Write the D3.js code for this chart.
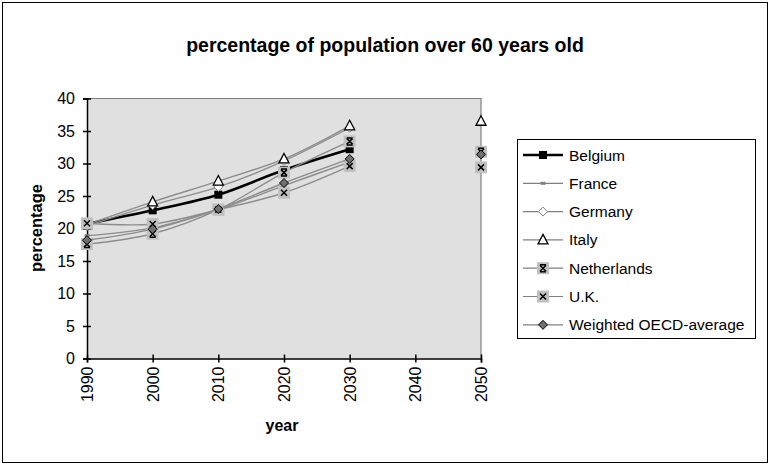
<!DOCTYPE html>
<html>
<head>
<meta charset="utf-8">
<script src="https://cdn.jsdelivr.net/npm/d3@7"></script>
<style>
  html, body { margin: 0; padding: 0; background: #fff; }
  svg { display: block; }
  text { font-family: "Liberation Sans", Arial, sans-serif; fill: #000; }
</style>
</head>
<body>
<svg id="chart" width="771" height="466"></svg>
<script>
const years = [1990, 2000, 2010, 2020, 2030, 2040, 2050];
const yTicks = [0, 5, 10, 15, 20, 25, 30, 35, 40];
const belgium     = [20.7, 22.8, 25.2, 29.0, 32.2, null, null];
const france      = [18.9, 20.1, 22.9, 26.6, 30.2, null, null];
const germany     = [20.4, 23.6, 26.4, 30.4, 35.5, null, null];
const italy       = [20.6, 24.1, 27.3, 30.7, 35.8, null, 36.5];
const netherlands = [17.6, 19.2, 22.9, 28.6, 33.4, null, 31.8];
const uk          = [20.8, 20.7, 22.9, 25.5, 29.6, null, 29.4];
const oecd        = [18.2, 19.9, 23.0, 27.0, 30.7, null, 31.4];

const series = [
  { name: "Belgium", values: belgium, kind: "square" },
  { name: "France", values: france, kind: "dash" },
  { name: "Germany", values: germany, kind: "diamondWhite" },
  { name: "Italy", values: italy, kind: "triangle" },
  { name: "Netherlands", values: netherlands, kind: "asterisk" },
  { name: "U.K.", values: uk, kind: "cross" },
  { name: "Weighted OECD-average", values: oecd, kind: "diamondGray" }
];

const svg = d3.select("#chart");
const plot = { left: 87, right: 481, top: 98.5, bottom: 358.5 };
const FONT = "'Liberation Sans', Arial, sans-serif";

// outer frame
svg.append("rect").attr("x", 2.5).attr("y", 2.5).attr("width", 765).attr("height", 460)
  .attr("fill", "#fff").attr("stroke", "#000").attr("stroke-width", 1);

const x = d3.scaleLinear().domain([1990, 2050]).range([plot.left, plot.right]);
const y = d3.scaleLinear().domain([0, 40]).range([plot.bottom, plot.top]);

// plot background
svg.append("rect").attr("x", plot.left).attr("y", plot.top)
  .attr("width", plot.right - plot.left).attr("height", plot.bottom - plot.top)
  .attr("fill", "#e0e0e0");
svg.append("path")
  .attr("d", `M${plot.left},${plot.top}H${plot.right}V${plot.bottom}`)
  .attr("fill", "none").attr("stroke", "#808080").attr("stroke-width", 1.2);

// title
svg.append("text").attr("x", 385).attr("y", 52).attr("text-anchor", "middle")
  .style("font-size", "19.5px").style("font-weight", "bold")
  .text("percentage of population over 60 years old");

// y axis
const yAxis = svg.append("g").attr("transform", `translate(${plot.left},0)`)
  .call(d3.axisLeft(y).tickValues(yTicks).tickSize(4).tickPadding(8));
yAxis.select(".domain").attr("stroke", "#000").attr("stroke-width", 1.5);
yAxis.selectAll(".tick line").attr("x2", 4).attr("x1", -4).attr("stroke", "#000").attr("stroke-width", 1.5);
yAxis.selectAll(".tick text").style("font-size", "16px").style("font-family", FONT);

// x axis
const xAxis = svg.append("g").attr("transform", `translate(0,${plot.bottom})`)
  .call(d3.axisBottom(x).tickValues(years).tickFormat(d3.format("d")).tickSize(4));
xAxis.select(".domain").attr("stroke", "#000").attr("stroke-width", 1.5);
xAxis.selectAll(".tick line").attr("y1", -4).attr("y2", 4).attr("stroke", "#000").attr("stroke-width", 1.5);
xAxis.selectAll(".tick text")
  .style("font-size", "16px").style("font-family", FONT)
  .attr("transform", "rotate(-90)")
  .attr("x", -8).attr("y", 0).attr("dy", "0.35em")
  .attr("text-anchor", "end");

// axis titles
svg.append("text").attr("transform", "translate(42,228) rotate(-90)")
  .attr("text-anchor", "middle").style("font-size", "16.5px").style("font-weight", "bold")
  .text("percentage");
svg.append("text").attr("x", 282).attr("y", 431).attr("text-anchor", "middle")
  .style("font-size", "16px").style("font-weight", "bold").text("year");

function drawMarker(g, kind, cx, cy) {
  if (kind === "square") {
    g.append("rect").attr("x", cx - 4).attr("y", cy - 4).attr("width", 8).attr("height", 8)
      .attr("fill", "#000");
  } else if (kind === "dash") {
    g.append("rect").attr("x", cx - 2.5).attr("y", cy - 1.5).attr("width", 5).attr("height", 3)
      .attr("fill", "#808080");
  } else if (kind === "diamondWhite") {
    g.append("path").attr("d", `M${cx},${cy - 4.5}L${cx + 4.5},${cy}L${cx},${cy + 4.5}L${cx - 4.5},${cy}Z`)
      .attr("fill", "#fff").attr("stroke", "#808080").attr("stroke-width", 1);
  } else if (kind === "triangle") {
    g.append("path").attr("d", `M${cx},${cy - 5.5}L${cx + 5},${cy + 4}L${cx - 5},${cy + 4}Z`)
      .attr("fill", "#fff").attr("stroke", "#000").attr("stroke-width", 1.3);
  } else if (kind === "asterisk" || kind === "cross") {
    g.append("rect").attr("x", cx - 6).attr("y", cy - 6).attr("width", 12).attr("height", 12)
      .attr("fill", "#c0c0c0");
    let d = `M${cx - 3},${cy - 3}L${cx + 3},${cy + 3}M${cx - 3},${cy + 3}L${cx + 3},${cy - 3}`;
    if (kind === "asterisk") d += `M${cx - 3},${cy - 3.5}H${cx + 3}M${cx - 3},${cy + 3.5}H${cx + 3}`;
    g.append("path").attr("d", d).attr("fill", "none").attr("stroke", "#000").attr("stroke-width", 1.5);
  } else if (kind === "diamondGray") {
    g.append("path").attr("d", `M${cx},${cy - 4.5}L${cx + 4.5},${cy}L${cx},${cy + 4.5}L${cx - 4.5},${cy}Z`)
      .attr("fill", "#707070").attr("stroke", "#000").attr("stroke-width", 1);
  }
}

// lines
const line = d3.line()
  .defined(d => d.v != null)
  .x(d => x(d.year)).y(d => y(d.v))
  .curve(d3.curveCatmullRom.alpha(0.5));

const seriesG = svg.append("g");
series.forEach((s) => {
  const pts = years.map((yr, j) => ({ year: yr, v: s.values[j] }));
  const g = seriesG.append("g");
  g.append("path").datum(pts).attr("d", line)
    .attr("fill", "none")
    .attr("stroke", s.name === "Belgium" ? "#000" : "#8c8c8c")
    .attr("stroke-width", s.name === "Belgium" ? 2.6 : 1.4);
  pts.filter(p => p.v != null).forEach(p => drawMarker(g, s.kind, x(p.year), y(p.v)));
});

// legend
const lg = svg.append("g");
lg.append("rect").attr("x", 517.5).attr("y", 139.5).attr("width", 238).attr("height", 199)
  .attr("fill", "#fff").attr("stroke", "#000").attr("stroke-width", 1);
series.forEach((s, i) => {
  const cy = 155 + i * 28.3;
  lg.append("line").attr("x1", 523).attr("x2", 563).attr("y1", cy).attr("y2", cy)
    .attr("stroke", s.name === "Belgium" ? "#000" : "#808080")
    .attr("stroke-width", s.name === "Belgium" ? 2.6 : 1.2);
  drawMarker(lg, s.kind, 543, cy);
  lg.append("text").attr("x", 569).attr("y", cy).attr("dy", "0.36em")
    .style("font-size", "15.5px").text(s.name);
});
</script>
</body>
</html>
